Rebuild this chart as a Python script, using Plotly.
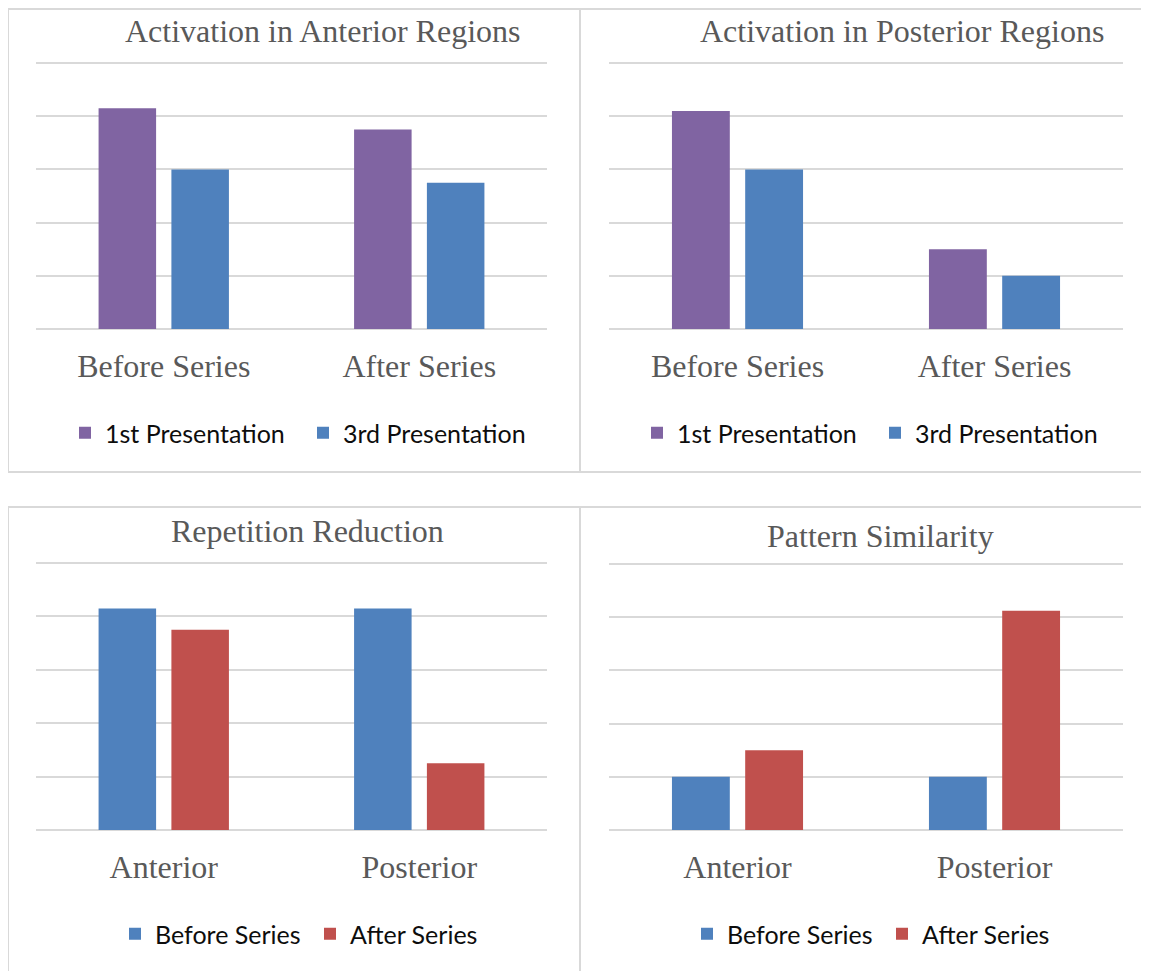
import plotly.graph_objects as go

# The page body has an 8px margin, so the figure is drawn 8px smaller and all
# pixel positions below are offset by that margin.
OFF = 8
W, H = 1149 - OFF, 971 - OFF

# ---- data ----
act_categories = ["Before Series", "After Series"]
anterior_1st = [4.15, 3.75]
anterior_3rd = [3.0, 2.75]
posterior_1st = [4.1, 1.5]
posterior_3rd = [3.0, 1.0]

region_categories = ["Anterior", "Posterior"]
rep_before = [4.15, 4.15]
rep_after = [3.75, 1.25]
pat_before = [1.0, 1.0]
pat_after = [1.5, 4.12]

titles = ["Activation in Anterior Regions", "Activation in Posterior Regions",
          "Repetition Reduction", "Pattern Similarity"]

PURPLE = "#8064A2"
BLUE = "#4F81BD"
RED = "#C0504D"
GRID = "#D9D9D9"
GRAY_TXT = "#595959"
SERIF = "Liberation Serif, Times New Roman, serif"
SANS = "Lato, Carlito, Calibri, sans-serif"

YMAX = 5
PAD = 0.02  # small range padding so the 0 and 5 gridlines are drawn


def px_x(p):
    return (p - OFF) / W


def px_y(p):
    return 1 - (p - OFF) / H


fig = go.Figure()

panels = [
    ("x", "y", "legend", act_categories,
     [("1st Presentation", anterior_1st, PURPLE), ("3rd Presentation", anterior_3rd, BLUE)],
     (36, 547), (329, 63)),
    ("x2", "y2", "legend2", act_categories,
     [("1st Presentation", posterior_1st, PURPLE), ("3rd Presentation", posterior_3rd, BLUE)],
     (609, 1123), (329, 63)),
    ("x3", "y3", "legend3", region_categories,
     [("Before Series", rep_before, BLUE), ("After Series", rep_after, RED)],
     (36, 547), (830, 563)),
    ("x4", "y4", "legend4", region_categories,
     [("Before Series", pat_before, BLUE), ("After Series", pat_after, RED)],
     (609, 1123), (830, 564)),
]

legend_pos = [(303, 433), (875, 433), (310, 934), (882, 934)]
legend_entry_w = [193, 193, 150, 150]
title_pos = [(323, 31), (902, 31), (307, 531), (880, 536)]

for i, (xa, ya, lg, cats, series, xd, yd) in enumerate(panels):
    for name, vals, col in series:
        fig.add_trace(go.Bar(
            x=cats, y=vals, name=name, xaxis=xa, yaxis=ya, legend=lg,
            marker=dict(color=col, line=dict(width=0)),
        ))
    sfx = "" if i == 0 else str(i + 1)
    base, top = yd
    unit = (base - top) / YMAX
    fig.layout["xaxis" + sfx] = dict(
        domain=[px_x(xd[0]), px_x(xd[1])], anchor=ya,
        showgrid=False, showline=False, zeroline=False, ticks="",
        tickfont=dict(family=SERIF, size=32, color=GRAY_TXT),
        ticklabelstandoff=14, fixedrange=True,
    )
    fig.layout["yaxis" + sfx] = dict(
        domain=[px_y(base + PAD * unit), px_y(top - PAD * unit)], anchor=xa,
        range=[-PAD, YMAX + PAD], dtick=1, showgrid=True, gridcolor=GRID, gridwidth=1.6,
        showticklabels=False, zeroline=False, showline=False, ticks="",
        fixedrange=True,
    )
    lx, ly = legend_pos[i]
    fig.layout[lg] = dict(
        orientation="h", x=px_x(lx), xanchor="center", y=px_y(ly), yanchor="middle",
        font=dict(family=SANS, size=25, color="#0D0D0D"),
        bgcolor="rgba(0,0,0,0)", itemclick=False, itemdoubleclick=False,
        entrywidth=legend_entry_w[i], itemwidth=30,
    )
    tx, ty = title_pos[i]
    fig.add_annotation(
        text=titles[i], x=px_x(tx), y=px_y(ty), xref="paper", yref="paper",
        xanchor="center", yanchor="middle", showarrow=False,
        font=dict(family=SERIF, size=32, color=GRAY_TXT),
    )

# panel borders
for (x0, x1, y0, y1) in [(8, 580, 9, 472), (580, 1170, 9, 472),
                         (8, 580, 507, 990), (580, 1170, 507, 990)]:
    fig.add_shape(type="rect", xref="paper", yref="paper",
                  x0=px_x(x0), x1=px_x(x1), y0=px_y(y1), y1=px_y(y0),
                  line=dict(color=GRID, width=2), fillcolor="rgba(0,0,0,0)", layer="below")

fig.update_layout(
    width=W, height=H, margin=dict(l=0, r=0, t=0, b=0),
    paper_bgcolor="white", plot_bgcolor="white",
    barmode="group", bargap=0.43, bargroupgap=0.21,
    showlegend=True,
)

fig.write_html("out.html")
